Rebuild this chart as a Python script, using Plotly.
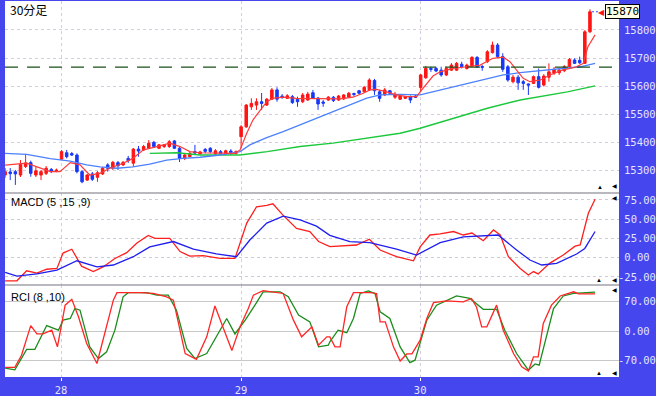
import plotly.graph_objects as go

# ---------------- data ----------------
bar_idx = list(range(115))
opens = [15285,15296,15297,15285,15315,15329,15285,15285,15291,15305,15300,15341,15364,15361,15356,15297,15267,15289,15277,15289,
         15321,15309,15329,15321,15344,15327,15377,15374,15380,15401,15380,15386,15386,15406,15380,15344,15350,15368,15360,15376,
         15380,15360,15368,15360,15370,15362,15421,15456,15527,15533,15545,15533,15554,15587,15565,15557,15563,15554,15545,15551,
         15577,15558,15544,15551,15561,15551,15555,15561,15574,15584,15580,15587,15620,15580,15569,15584,15561,15554,15557,15563,
         15565,15595,15630,15663,15663,15657,15640,15657,15657,15678,15663,15672,15702,15670,15687,15719,15746,15705,15669,15616,
         15632,15616,15608,15610,15634,15604,15632,15646,15648,15655,15669,15693,15692,15681,15793]
highs = [15310,15310,15303,15338,15360,15336,15314,15303,15317,15310,15308,15374,15374,15367,15362,15303,15289,15296,15299,15314,
         15327,15335,15335,15335,15353,15381,15388,15392,15409,15406,15395,15395,15409,15409,15384,15363,15367,15392,15371,15381,
         15384,15377,15374,15375,15377,15372,15462,15537,15557,15557,15576,15558,15594,15596,15572,15572,15569,15563,15576,15580,
         15587,15562,15551,15565,15565,15569,15572,15580,15577,15587,15601,15628,15626,15587,15594,15587,15580,15569,15565,15567,
         15569,15643,15672,15669,15669,15669,15669,15682,15686,15687,15680,15707,15707,15675,15728,15758,15753,15717,15675,15640,
         15640,15622,15610,15638,15663,15643,15681,15668,15665,15675,15700,15699,15705,15799,15873]
lows = [15275,15267,15250,15278,15310,15279,15278,15267,15285,15292,15295,15338,15344,15353,15291,15256,15264,15264,15261,15285,
        15297,15303,15303,15317,15328,15315,15350,15370,15377,15381,15377,15381,15381,15377,15331,15338,15349,15356,15356,15362,
        15362,15356,15358,15356,15356,15358,15380,15452,15516,15516,15516,15530,15551,15545,15555,15555,15537,15527,15540,15548,
        15555,15516,15527,15548,15544,15548,15551,15558,15563,15572,15578,15583,15569,15545,15565,15572,15555,15551,15555,15540,
        15558,15580,15626,15651,15650,15634,15636,15654,15654,15663,15659,15668,15665,15655,15682,15716,15700,15651,15616,15610,
        15587,15587,15569,15608,15592,15599,15616,15640,15640,15650,15665,15679,15679,15679,15789]
closes = [15297,15290,15289,15323,15328,15291,15300,15297,15309,15297,15302,15368,15350,15356,15297,15261,15285,15270,15293,15309,
          15309,15330,15318,15330,15336,15377,15370,15386,15398,15386,15392,15392,15403,15380,15344,15356,15362,15363,15367,15369,
          15368,15371,15362,15371,15365,15368,15456,15533,15539,15545,15539,15554,15587,15554,15561,15566,15542,15545,15569,15572,
          15557,15537,15540,15561,15549,15565,15569,15575,15571,15575,15596,15622,15584,15557,15587,15575,15572,15565,15563,15551,
          15561,15640,15663,15660,15654,15640,15663,15675,15681,15669,15675,15702,15669,15667,15722,15746,15705,15660,15622,15632,
          15612,15610,15604,15634,15596,15636,15651,15660,15657,15669,15695,15681,15683,15793,15864]

ma_short_x = [0,4.2,8.8,10.7,12.7,14.6,16.5,18.5,20.4,23.0,24.9,26.9,29.6,32.1,34.1,36.0,38.0,41.9,44.8,45.8,47.1,48.3,49.7,51.0,
              52.2,54.2,56.8,59.4,62.7,65.3,67.8,69.8,71.1,72.4,74.4,76.3,78.3,80.2,80.9,82.2,83.4,84.8,87.3,90.0,92.6,93.8,95.1,
              97.1,98.4,99.7,101.0,102.3,104.3,106.2,108.2,110.1,111.4,112.7,113.6,115.0]
ma_short = [15320,15327,15297,15297,15329,15321,15285,15291,15309,15327,15344,15374,15386,15398,15386,15368,15364,15362,15362,15374,
            15433,15480,15516,15545,15557,15561,15557,15556,15554,15555,15561,15575,15587,15589,15580,15569,15563,15563,15580,15610,
            15636,15651,15663,15669,15675,15687,15699,15703,15687,15657,15628,15616,15622,15640,15655,15663,15669,15681,15740,15782]
ma_mid_x = [0,4.2,8.8,12.7,15.9,18.5,21.8,24.9,28.2,31.5,34.7,38.0,41.9,44.4,45.8,47.7,51.0,54.2,57.5,60.7,63.9,67.2,70.5,73.1,
            77.0,80.9,87.3,93.8,97.1,100.4,104.3,108.2,112.1,115.0]
ma_mid = [15362,15358,15343,15334,15321,15314,15309,15314,15324,15338,15344,15348,15356,15362,15368,15392,15418,15439,15463,15486,
          15510,15533,15558,15569,15571,15569,15596,15624,15640,15648,15655,15660,15669,15681]
ma_long_x = [28.2,33.5,38.0,45.8,51.1,57.5,63.9,70.5,77.0,80.9,87.3,94.0,100.4,107.2,109.6,115.0]
ma_long = [15362,15364,15356,15356,15368,15386,15398,15415,15433,15451,15486,15522,15551,15572,15580,15601]

macd_x = [0,2.3,4.2,6.2,8.1,10.1,11.3,13.0,14.9,17.2,19.1,21.4,23.7,25.7,27.9,29.2,32.1,34.1,36.0,38.6,41.9,44.8,47.1,49.0,51.0,
          52.2,54.2,56.8,59.4,61.1,63.3,68.5,71.0,73.1,76.3,79.6,80.9,82.8,84.8,87.4,89.3,91.0,93.2,95.2,96.5,98.1,100.4,102.0,
          103.0,103.9,106.2,108.8,111.1,112.1,113.7,115.0]
macd = [-30,-30,-17,-20,-15,-14,6,11,-11,-18,-12,-1,6.5,19,29,25,25,8,2,2.6,-1,-1,45,66,68,70,55,38,34,21,14.5,16.5,24,10,1.3,-4,
        14,29.5,31,34,29.5,32,22,36,29.5,1.3,-14,-22.5,-18,-21,-7,3.5,15,16.5,58,76]
signal_x = [0,2.3,6.2,10.1,14.0,17.9,21.1,25.0,28.2,32.8,36.7,41.2,45.1,47.7,51.0,54.2,57.5,60.7,63.3,67.2,71.1,76.3,80.2,84.8,
            89.3,93.2,96.1,99.7,102.3,104.6,107.5,111.4,113.0,115.0]
signal = [-19,-24,-21,-16,-4,-12,-9.5,1.3,14,21,11,5,1.3,23,45,54,49,41,29,21,19.5,11,3.5,19.5,27,28,29.5,10,-3,-9.5,-7.3,4.8,12,34]

rci_fast_x = [0,1.9,3.2,5.0,6.2,7.4,9.1,10.2,11.7,13.0,14.3,15.9,17.9,19.5,21.1,21.8,26.3,28.9,31.5,32.8,35.1,37.3,39.3,40.9,
              42.2,44.2,45.8,47.4,48.4,50.3,54.2,56.2,57.8,59.8,61.1,62.7,63.3,64.3,65.3,66.6,67.9,71.1,72.4,73.1,74.1,75.7,77.0,
              78.3,79.3,80.9,82.2,83.5,86.1,89.3,90.9,91.9,92.9,93.9,95.8,97.1,99.1,100.7,102.0,103.0,103.9,104.9,106.5,108.2,
              110.8,111.8,115.0]
rci_fast = [-87,-87,-58,13,-7,-7,2,-38,62,76,34,-30,-78,-5,74,92,92,90,82,74,-54,-68,-14,60,18,-47,10,54,86,97,90,26,-14,10,-34,
            -14,-14,-38,-38,58,92,92,90,22,22,-38,-72,-55,-55,-22,30,68,72,70,78,57,10,10,62,2,-54,-86,-96,-62,-62,18,62,84,94,89,89]
rci_slow_x = [0,1.9,4.2,5.8,8.1,10.4,11.3,12.7,13.6,14.6,16.5,18.2,19.8,21.4,23.0,24.0,27.6,29.6,31.8,33.4,35.4,37.0,39.3,43.2,
              44.8,46.8,48.7,50.3,53.6,55.2,57.2,59.4,61.1,63.0,63.3,64.9,66.6,67.9,69.2,70.8,72.1,73.1,75.0,77.0,78.9,79.9,82.2,
              84.1,88.0,90.6,93.2,95.8,97.4,99.7,102.0,103.3,104.1,106.9,108.8,110.8,115.0]
rci_slow = [-89,-93,-44,-44,13,2,26,30,54,50,-38,-66,-50,2,82,92,92,86,86,50,-42,-66,-54,30,-7,26,62,94,94,82,38,22,-38,-34,-26,
            2,-4,30,90,96,90,46,30,-38,-76,-70,26,62,84,78,52,52,2,-54,-94,-79,-82,54,84,90,93]

day_ticks = [10.9, 46.0, 80.9]
day_labels = ["28", "29", "30"]
price_ticks = [15300, 15400, 15500, 15600, 15700, 15800]
macd_ticks = [-25, 0, 25, 50, 75]
rci_ticks = [-70, 0, 70]
ref_level = 15668
last_price_label = "15870"

# ---------------- style ----------------
BG = "#4646EE"
LBL = "#E4E4FF"
AXFONT = dict(family="DejaVu Sans Mono", size=10.5, color=LBL)
NB = "\u00a0"

def fmt(v):
    s = f"{v:.2f}"
    return s if v < 0 else NB + s

fig = go.Figure()

fig.add_trace(go.Candlestick(
    x=bar_idx, open=opens, high=highs, low=lows, close=closes,
    increasing=dict(line=dict(color="#FF1414", width=1), fillcolor="#FF1414"),
    decreasing=dict(line=dict(color="#1838F8", width=1), fillcolor="#1838F8"),
    whiskerwidth=0, xaxis="x", yaxis="y", showlegend=False, hoverinfo="skip"))
fig.add_trace(go.Scatter(x=ma_long_x, y=ma_long, mode="lines", line=dict(color="#1CC83C", width=1.4),
                         xaxis="x", yaxis="y", showlegend=False))
fig.add_trace(go.Scatter(x=ma_mid_x, y=ma_mid, mode="lines", line=dict(color="#4C80FF", width=1.3),
                         xaxis="x", yaxis="y", showlegend=False))
fig.add_trace(go.Scatter(x=ma_short_x, y=ma_short, mode="lines", line=dict(color="#FF3A3A", width=1.2),
                         xaxis="x", yaxis="y", showlegend=False))

fig.add_trace(go.Scatter(x=macd_x, y=macd, mode="lines", line=dict(color="#FF1E1E", width=1.3),
                         xaxis="x2", yaxis="y2", showlegend=False))
fig.add_trace(go.Scatter(x=signal_x, y=signal, mode="lines", line=dict(color="#1E1EF0", width=1.3),
                         xaxis="x2", yaxis="y2", showlegend=False))

fig.add_trace(go.Scatter(x=rci_slow_x, y=rci_slow, mode="lines", line=dict(color="#1C8C1C", width=1.3),
                         xaxis="x3", yaxis="y3", showlegend=False))
fig.add_trace(go.Scatter(x=rci_fast_x, y=rci_fast, mode="lines", line=dict(color="#FF2626", width=1.3),
                         xaxis="x3", yaxis="y3", showlegend=False))

H = 376.0
def py(px):  # pixel y -> paper fraction
    return (377 - px) / H
def pxx(px):  # pixel x -> paper fraction
    return (px - 5) / 614.0

xr = [-0.02, 119.66]
xcommon = dict(range=xr, tickvals=day_ticks, showgrid=True, gridcolor="#D6CCE0", griddash="dot",
               gridwidth=1, zeroline=False, showline=False, fixedrange=True)
fig.update_layout(
    width=656, height=396,
    margin=dict(l=5, r=37, t=1, b=19),
    paper_bgcolor=BG, plot_bgcolor="white",
    xaxis=dict(**xcommon, anchor="y", showticklabels=False, ticks="", rangeslider=dict(visible=False)),
    xaxis2=dict(**xcommon, anchor="y2", matches="x", showticklabels=False, ticks=""),
    xaxis3=dict(**xcommon, anchor="y3", matches="x", ticktext=day_labels, showticklabels=True,
                ticks="outside", ticklen=3, tickcolor="white", tickfont=AXFONT),
    yaxis=dict(domain=[py(193), 1.0], range=[15221.3, 15902.2], side="right", tickvals=price_ticks,
               ticktext=[str(v) for v in price_ticks], tickfont=AXFONT, ticks="", ticklabelstandoff=4,
               showgrid=True, gridcolor="#D8CCDC", griddash="dot", zeroline=False, fixedrange=True),
    yaxis2=dict(domain=[py(285), py(193)], range=[-35.45, 84.03], side="right", anchor="x2", tickvals=macd_ticks,
                ticktext=[fmt(v) for v in macd_ticks], tickfont=AXFONT, ticks="", ticklabelstandoff=-2,
                showgrid=True, gridcolor="#CCCCD8", griddash="dot", zeroline=False, fixedrange=True),
    yaxis3=dict(domain=[0, py(285)], range=[-110.3, 110.3], side="right", anchor="x3", tickvals=rci_ticks,
                ticktext=[fmt(v) for v in rci_ticks], tickfont=AXFONT, ticks="", ticklabelstandoff=-2,
                showgrid=True, gridcolor="#C8C8C8", zeroline=False, fixedrange=True),
)
fig.update_layout(xaxis3_tickvals=day_ticks)

shapes = []
for yy in (193, 285):
    shapes.append(dict(type="line", xref="paper", yref="paper", x0=0, x1=1, y0=py(yy), y1=py(yy),
                       line=dict(color="#A0A0A8", width=1.5)))
shapes.append(dict(type="line", xref="x domain", yref="y", x0=0, x1=1, y0=ref_level, y1=ref_level,
                   line=dict(color="#1A501A", width=1.2, dash="13px,9px")))
shapes.append(dict(type="line", xref="x", yref="y", x0=bar_idx[-1] + 0.4, x1=bar_idx[-1] + 1.6,
                   y0=closes[-1], y1=closes[-1], line=dict(color="#3050FF", width=1, dash="2px,2px")))
fig.update_layout(shapes=shapes)

ann = []
ann.append(dict(text="30分足", xref="paper", yref="paper", x=pxx(8), y=py(9), xanchor="left", yanchor="middle",
                showarrow=False, font=dict(family="Noto Sans CJK JP", size=12, color="black")))
ann.append(dict(text="MACD (5 ,15 ,9)", xref="paper", yref="paper", x=pxx(9), y=py(202), xanchor="left",
                yanchor="middle", showarrow=False, font=dict(family="Liberation Sans", size=11, color="black")))
ann.append(dict(text="RCI (8 ,10)", xref="paper", yref="paper", x=pxx(9), y=py(297), xanchor="left",
                yanchor="middle", showarrow=False, font=dict(family="Liberation Sans", size=11, color="black")))
ann.append(dict(text=last_price_label, xref="paper", yref="y", x=pxx(605), y=closes[-1], xanchor="left",
                yanchor="middle", showarrow=False, bgcolor="#FFFFE6", bordercolor="black", borderwidth=1, borderpad=0,
                font=dict(family="DejaVu Sans Mono", size=11, color="black")))
ann.append(dict(text="◀", xref="paper", yref="y", x=pxx(601), y=closes[-1], xanchor="center", yanchor="middle",
                showarrow=False, font=dict(size=8, color="#FF1414")))
for (xp, yp, t) in [(600, 187, "▲"), (614, 186, "◀"), (614, 198, "◀"), (599, 280, "▲"), (614, 280, "◀"),
                    (614, 290, "◀"), (599, 373, "▲"), (614, 373, "◀")]:
    ann.append(dict(text=t, xref="paper", yref="paper", x=pxx(xp), y=py(yp), xanchor="center", yanchor="middle",
                    showarrow=False, font=dict(size=6, color="black")))
fig.update_layout(annotations=ann)

fig.write_html("out.html", config={"displayModeBar": False, "staticPlot": True},
               post_script="document.body.style.margin='0';document.body.style.overflow='hidden';")
